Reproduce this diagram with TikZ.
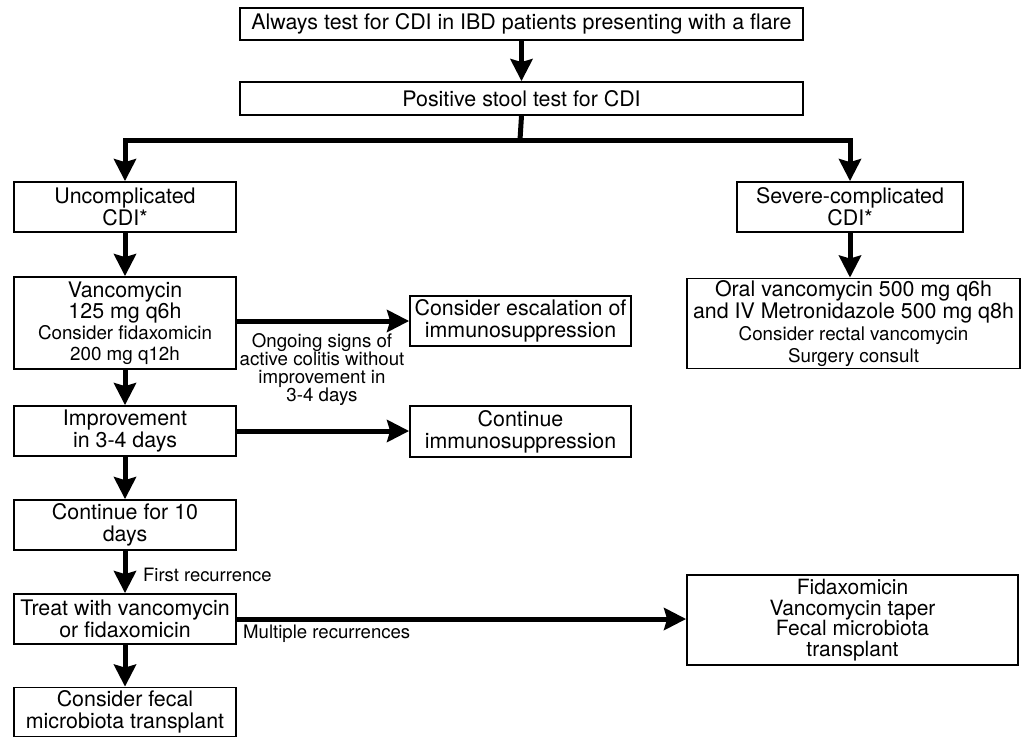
\documentclass[tikz,border=0pt]{standalone}
\usepackage{fontspec}
\setmainfont{TeX Gyre Heros}
\usetikzlibrary{arrows.meta,positioning}
\tikzset{
  box/.style={draw, line width=1.8pt, align=center, inner sep=2pt, font=\fontsize{21.4}{22}\selectfont},
  flow/.style={line width=5pt, line join=miter},
  arr/.style={flow, -{Stealth[length=22pt,width=22pt,inset=3pt]}},
  lbl/.style={align=center, font=\fontsize{18.7}{18}\selectfont, inner sep=0pt},
}
\newcommand{\smalltxt}{\fontsize{18.8}{17}\selectfont}
\begin{document}
\begin{tikzpicture}[x=1pt,y=-1pt]
\useasboundingbox (0,0) rectangle (1021,737);
\node[box, minimum width=563pt, minimum height=32pt] (top) at (521.5,24) {Always test for CDI in IBD patients presenting with a flare};
\node[box, minimum width=563pt, minimum height=33pt] (pos) at (521.5,98.5) {Positive stool test for CDI};
\node[box, minimum width=222pt, minimum height=50pt] (unc) at (125,207) {Uncomplicated\\CDI*};
\node[box, minimum width=226pt, minimum height=50pt] (sev) at (850,207) {Severe-complicated\\CDI*};
\node[box, minimum width=222pt, minimum height=92pt, font=\fontsize{21.4}{21}\selectfont] (vanc) at (125,323) {Vancomycin\\125 mg q6h\\{\smalltxt Consider fidaxomicin}\\{\smalltxt 200 mg q12h}};
\node[box, minimum width=221pt, minimum height=50pt] (esc) at (520.5,321) {Consider escalation of\\immunosuppression};
\node[box, minimum width=333pt, minimum height=89pt, font=\fontsize{21.4}{22}\selectfont] (oral) at (853.5,323.5) {Oral vancomycin 500 mg q6h\\and IV Metronidazole 500 mg q8h\\{\smalltxt Consider rectal vancomycin}\\{\smalltxt Surgery consult}};
\node[box, minimum width=222pt, minimum height=50pt] (impr) at (125,431) {Improvement\\in 3-4 days};
\node[box, minimum width=221pt, minimum height=51pt] (cont) at (520.5,431.5) {Continue\\immunosuppression};
\node[box, minimum width=222pt, minimum height=50pt] (ten) at (125,525) {Continue for 10\\days};
\node[box, minimum width=222pt, minimum height=50pt] (treat) at (125,619) {Treat with vancomycin\\or fidaxomicin};
\node[box, minimum width=331pt, minimum height=90pt, font=\fontsize{21}{20.5}\selectfont] (multi) at (852.5,620) {Fidaxomicin\\Vancomycin taper\\Fecal microbiota\\transplant};
\node[box, minimum width=222pt, minimum height=49pt] (fmt) at (125,712) {Consider fecal\\microbiota transplant};

\coordinate (br) at (520,140);
\draw[arr] (top) -- (pos);
\draw[flow] (pos.south) -- (br);
\draw[arr] (br) -| (unc.north);
\draw[arr] (br) -| (sev.north);
\draw[arr] (unc) -- (vanc);
\draw[arr] (sev.south) -- (sev.south |- oral.north);
\draw[arr] (vanc.east |- esc.west) -- (esc.west);
\node[lbl] (ongo) at (322,370) {Ongoing signs of\\active colitis without\\improvement in\\3-4 days};
\draw[arr] (vanc) -- (impr);
\draw[arr] (impr.east) -- (impr.east -| cont.west);
\draw[arr] (impr) -- (ten);
\draw[arr] (ten) -- (treat);
\node[anchor=west, font=\fontsize{18.4}{18}\selectfont, inner sep=0pt] (firstr) at (143,575) {First recurrence};
\draw[arr] (treat.east) -- (treat.east -| multi.west);
\node[anchor=west, font=\fontsize{18.6}{18}\selectfont, inner sep=0pt] (multl) at (243,634) {Multiple recurrences};
\draw[arr] (treat) -- (fmt);
\end{tikzpicture}
\end{document}
